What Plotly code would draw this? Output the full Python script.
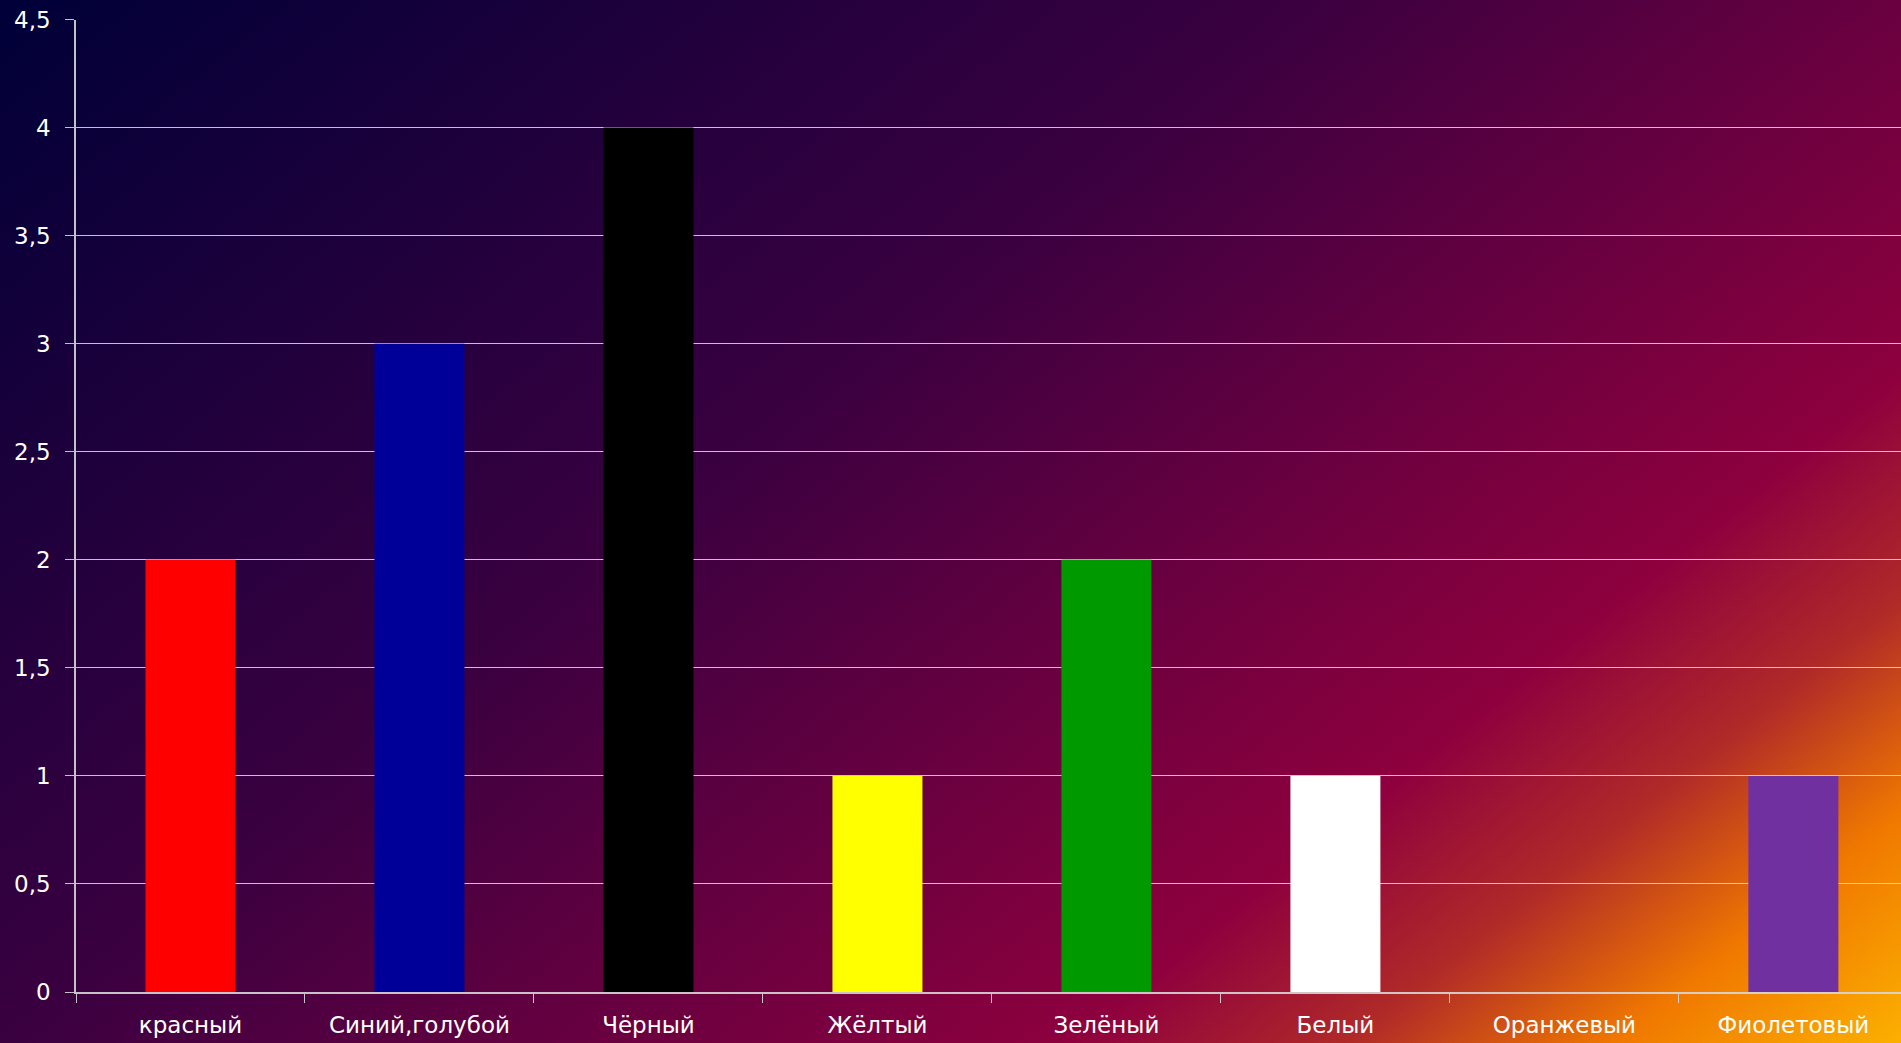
import base64
import plotly.graph_objects as go

categories = ["красный", "Синий,голубой", "Чёрный", "Жёлтый", "Зелёный", "Белый", "Оранжевый", "Фиолетовый"]
values = [2, 3, 4, 1, 2, 1, 0, 1]
bar_colors = ["#FF0000", "#000099", "#000000", "#FFFF00", "#009900", "#FFFFFF", "#F07800", "#7030A0"]
y_ticks = [0, 0.5, 1, 1.5, 2, 2.5, 3, 3.5, 4, 4.5]
y_tick_labels = ["0", "0,5", "1", "1,5", "2", "2,5", "3", "3,5", "4", "4,5"]

W, H = 1901, 1043

svg = f'''<svg xmlns="http://www.w3.org/2000/svg" width="{W}" height="{H}" viewBox="0 0 {W} {H}" preserveAspectRatio="none">
<defs><linearGradient id="g" gradientUnits="userSpaceOnUse" x1="0" y1="0" x2="1254" y2="1563">
<stop offset="0" stop-color="#000038"/>
<stop offset="0.406" stop-color="#3a0040"/>
<stop offset="0.594" stop-color="#6a0040"/>
<stop offset="0.739" stop-color="#8e003e"/>
<stop offset="0.827" stop-color="#b02a28"/>
<stop offset="0.91" stop-color="#f07800"/>
<stop offset="1" stop-color="#fcb000"/>
</linearGradient></defs>
<rect x="0" y="0" width="{W}" height="{H}" fill="url(#g)"/>
</svg>'''
src = "data:image/svg+xml;base64," + base64.b64encode(svg.encode("utf-8")).decode("ascii")

fig = go.Figure()
fig.add_trace(go.Bar(
    x=categories, y=values,
    marker=dict(color=bar_colors, line=dict(width=0)),
    hoverinfo="x+y",
))

font = dict(family="DejaVu Sans", size=23, color="#FFFFFF")
line_col = "rgba(215,215,215,0.9)"

fig.update_layout(
    width=W, height=H,
    margin=dict(l=0, r=0, t=0, b=0, autoexpand=False),
    paper_bgcolor="#4e0040",
    plot_bgcolor="rgba(0,0,0,0)",
    showlegend=False,
    bargap=0.607,
    font=font,
    images=[dict(source=src, xref="paper", yref="paper", x=0, y=1, sizex=1, sizey=1,
                 sizing="stretch", layer="below", xanchor="left", yanchor="top")],
    xaxis=dict(
        domain=[76 / W, 1],
        range=[-0.5, 7.47],
        type="category",
        automargin=False,
        tickson="boundaries",
        ticks="outside", ticklen=9, tickcolor=line_col, tickwidth=1,
        showline=True, linecolor=line_col, linewidth=1.5,
        showgrid=False, zeroline=False,
        tickfont=font,
        ticklabelstandoff=12,
    ),
    yaxis=dict(
        domain=[(H - 992) / H, (H - 19.5) / H],
        range=[0, 4.5],
        automargin=False,
        tickvals=y_ticks, ticktext=y_tick_labels,
        ticks="outside", ticklen=9, tickcolor=line_col, tickwidth=1,
        showline=True, linecolor=line_col, linewidth=1.5,
        showgrid=True, gridcolor=line_col, gridwidth=1.2,
        zeroline=False,
        tickfont=font,
        ticklabelstandoff=10,
    ),
)

fig.write_html("out.html", config={"displayModeBar": False},
               post_script="document.body.style.margin='0';document.body.style.overflow='hidden';")
